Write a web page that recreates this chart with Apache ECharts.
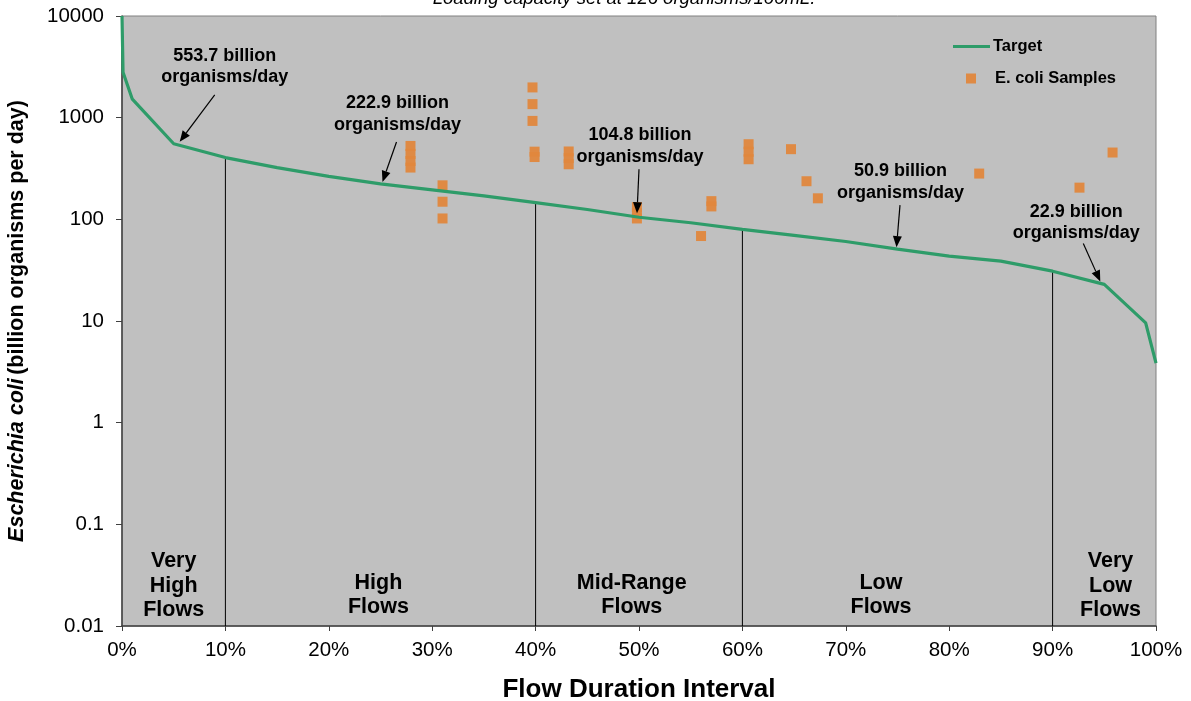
<!DOCTYPE html>
<html>
<head>
<meta charset="utf-8">
<script src="https://cdn.jsdelivr.net/npm/echarts@6/dist/echarts.min.js"></script>
<style>
  html, body { margin: 0; padding: 0; background: #ffffff; }
  #chart { width: 1191px; height: 701px; }
</style>
</head>
<body>
<div id="chart"></div>
<script>
// Load duration curve: flow duration interval (%) vs. E. coli load (billion organisms/day)
const flowPct = [0, 0.1, 1, 5, 10, 15, 20, 25, 30, 35, 40, 45, 50, 55, 60, 65, 70, 75, 80, 85, 90, 95, 99, 100];
const targetLoad = [10000, 2800, 1520, 553.7, 405, 323, 265, 222.9, 195, 170, 146, 125, 104.8, 92.5, 79.7, 69.5, 60.5, 50.9, 43.5, 38.8, 30.9, 22.9, 9.6, 3.85];

// Observed samples
const sampleX = [27.9, 27.9, 27.9, 27.9, 31, 31, 31, 39.7, 39.7, 39.7, 39.9, 39.9, 43.2, 43.2, 43.2,
                 49.8, 49.8, 49.8, 56, 57, 57, 60.6, 60.6, 60.6, 64.7, 66.2, 67.3, 82.9, 92.6, 95.8];
const sampleLoad = [527, 440, 375, 323, 216, 149, 102, 1984, 1359, 929, 463, 410, 465, 400, 348,
                    132, 115, 102, 68.5, 151, 134, 548, 462, 390, 490, 237, 161, 282, 205, 454];

// Flow regime boundaries and names
const zoneBreaks = [10, 40, 60, 90];
const zoneNames = ['Very\nHigh\nFlows', 'High\nFlows', 'Mid-Range\nFlows', 'Low\nFlows', 'Very\nLow\nFlows'];

// Callouts stating the target load at the middle of each regime
const calloutX = [5, 25, 50, 75, 95];
const calloutLoad = [553.7, 222.9, 104.8, 50.9, 22.9];

const xTicks = [0, 10, 20, 30, 40, 50, 60, 70, 80, 90, 100];
const yTicks = [0.01, 0.1, 1, 10, 100, 1000, 10000];

// ---- layout (pixel offsets, not data) ----
const calloutLayout = [
  { text: [51, -77], tail: [41, -49], tip: [6, -2] },
  { text: [17, -70], tail: [16, -42], tip: [2, -2] },
  { text: [1, -71], tail: [0, -48], tip: [-2, -4] },
  { text: [3, -67], tail: [2.5, -44], tip: [-1, -2] },
  { text: [-28, -62], tail: [-21, -41], tip: [-4, -3] }
];
const zoneLabelX = [5, 24.8, 49.3, 73.4, 95.6];
const zoneLabelY = [586, 595, 595, 595, 586];

const FONT = '"Liberation Sans", Arial, sans-serif';
const GREEN = '#2E9C69';
const ORANGE = '#E0873D';

function valueAt(x) {
  return targetLoad[flowPct.indexOf(x)];
}

const chart = echarts.init(document.getElementById('chart'), null, { renderer: 'canvas' });

const series = [
  {
    name: 'Target',
    type: 'line',
    data: flowPct.map((x, i) => [x, targetLoad[i]]),
    symbol: 'none',
    lineStyle: { color: GREEN, width: 3.2 },
    itemStyle: { color: GREEN },
    z: 4
  },
  {
    name: 'E. coli Samples',
    type: 'scatter',
    data: sampleX.map((x, i) => [x, sampleLoad[i]]),
    symbol: 'rect',
    symbolSize: 10,
    itemStyle: { color: ORANGE, opacity: 0.95 },
    z: 3
  }
];
zoneBreaks.forEach((b) => {
  series.push({
    name: 'break' + b,
    type: 'line',
    data: [[b, valueAt(b)], [b, 0.01]],
    symbol: 'none',
    silent: true,
    lineStyle: { color: '#000000', width: 1 },
    z: 2
  });
});

chart.setOption({
  animation: false,
  textStyle: { fontFamily: FONT },
  grid: {
    left: 122, right: 35, top: 16, bottom: 75,
    containLabel: false,
    outerBoundsMode: 'none',
    show: true,
    backgroundColor: '#C0C0C0',
    borderColor: '#808080',
    borderWidth: 1
  },
  legend: [
    {
      data: [{ name: 'Target', icon: 'rect' }],
      left: 953, top: 38,
      padding: 0,
      itemWidth: 37, itemHeight: 3,
      selectedMode: false,
      textStyle: { fontFamily: FONT, fontWeight: 'bold', fontSize: 16.5, color: '#000', padding: [0, 0, 0, -2] }
    },
    {
      data: [{ name: 'E. coli Samples', icon: 'rect' }],
      left: 966, top: 70,
      padding: 0,
      itemWidth: 10, itemHeight: 10,
      selectedMode: false,
      textStyle: { fontFamily: FONT, fontWeight: 'bold', fontSize: 16.5, color: '#000', padding: [0, 0, 0, 14] }
    }
  ],
  xAxis: {
    type: 'value',
    min: 0, max: 100, interval: 10,
    name: 'Flow Duration Interval',
    nameLocation: 'middle',
    nameGap: 51,
    nameTextStyle: { fontFamily: FONT, fontWeight: 'bold', fontSize: 26, color: '#000' },
    axisLine: { show: true, lineStyle: { color: '#404040', width: 1.5 } },
    axisTick: { show: true, length: 5, inside: false, lineStyle: { color: '#404040' } },
    axisLabel: {
      fontFamily: FONT, fontSize: 20.5, color: '#000', margin: 14,
      formatter: (v) => (xTicks.includes(v) ? v + '%' : '')
    },
    splitLine: { show: false }
  },
  yAxis: {
    type: 'log',
    logBase: 10,
    min: 0.01, max: 10000, interval: 1,
    name: '{i|Escherichia coli} {b|(billion organisms per day)}',
    nameLocation: 'middle',
    nameRotate: 90,
    nameGap: 94,
    nameTextStyle: {
      color: '#000',
      rich: {
        i: { fontFamily: FONT, fontWeight: 'bold', fontStyle: 'italic', fontSize: 21.5, color: '#000' },
        b: { fontFamily: FONT, fontWeight: 'bold', fontSize: 21.5, color: '#000' }
      }
    },
    axisLine: { show: true, lineStyle: { color: '#404040', width: 1.5 } },
    axisTick: { show: true, length: 6, inside: false, lineStyle: { color: '#404040' } },
    axisLabel: {
      fontFamily: FONT, fontSize: 20.5, color: '#000', margin: 18,
      formatter: (v) => {
        const r = Number(Number(v).toPrecision(6));
        const hit = yTicks.find((t) => Math.abs(t - r) / t < 1e-6);
        return hit === undefined ? '' : String(hit);
      }
    },
    splitLine: { show: false }
  },
  series: series
});

// Annotations drawn relative to the data points they describe
const graphics = [];
graphics.push({
  type: 'text',
  x: 624, y: -1,
  style: {
    text: 'Loading capacity set at 126 organisms/100mL.',
    font: 'italic 18.5px ' + FONT,
    fill: '#000', align: 'center', verticalAlign: 'middle'
  }
});

calloutX.forEach((x, i) => {
  const v = calloutLoad[i];
  const p = chart.convertToPixel({ gridIndex: 0 }, [x, v]);
  const L = calloutLayout[i];
  const tx = p[0] + L.tip[0], ty = p[1] + L.tip[1];
  const sx = p[0] + L.tail[0], sy = p[1] + L.tail[1];
  const ang = Math.atan2(ty - sy, tx - sx);
  const hl = 11, hw = 4.5;
  const bx = tx - hl * Math.cos(ang), by = ty - hl * Math.sin(ang);
  const nx = -Math.sin(ang) * hw, ny = Math.cos(ang) * hw;
  graphics.push({
    type: 'line', z: 10,
    shape: { x1: sx, y1: sy, x2: bx, y2: by },
    style: { stroke: '#000', lineWidth: 1.2 }
  });
  graphics.push({
    type: 'polygon', z: 10,
    shape: { points: [[tx, ty], [bx + nx, by + ny], [bx - nx, by - ny]] },
    style: { fill: '#000' }
  });
  graphics.push({
    type: 'text', z: 10,
    x: p[0] + L.text[0], y: p[1] + L.text[1],
    style: {
      text: v + ' billion\norganisms/day',
      font: 'bold 18px ' + FONT,
      lineHeight: 21.5,
      fill: '#000', align: 'center', verticalAlign: 'middle'
    }
  });
});

zoneNames.forEach((name, i) => {
  const px = chart.convertToPixel({ gridIndex: 0 }, [zoneLabelX[i], 1]);
  graphics.push({
    type: 'text', z: 10,
    x: px[0], y: zoneLabelY[i],
    style: {
      text: name,
      font: 'bold 21.5px ' + FONT,
      lineHeight: 24.5,
      fill: '#000', align: 'center', verticalAlign: 'middle'
    }
  });
});

chart.setOption({ graphic: graphics });
</script>
</body>
</html>
